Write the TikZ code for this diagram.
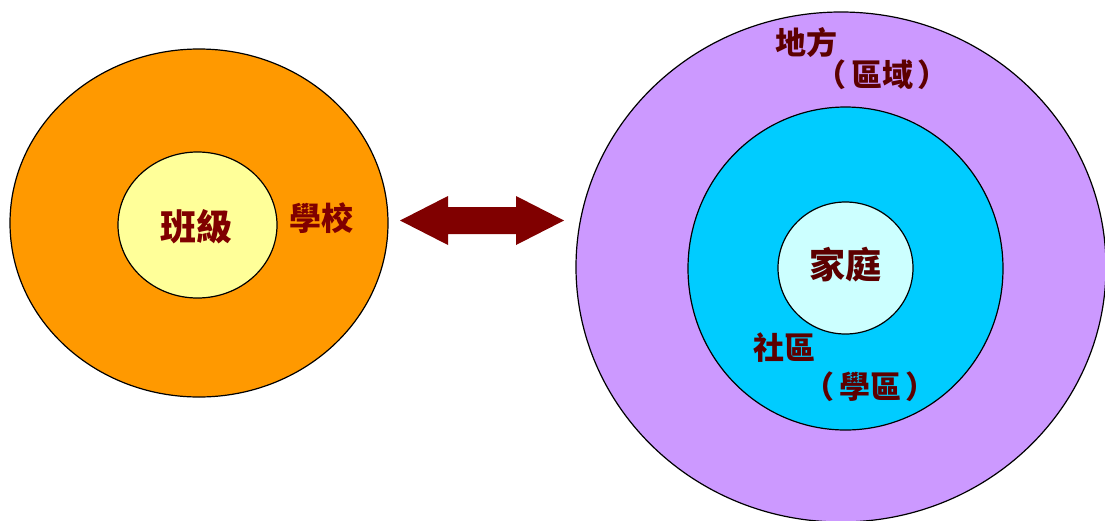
\documentclass[tikz,border=0pt]{standalone}
\usepackage{fontspec}
\setmainfont{Noto Sans CJK TC}
\usetikzlibrary{shapes.geometric}
\definecolor{orangefill}{HTML}{FF9900}
\definecolor{yellowfill}{HTML}{FFFF99}
\definecolor{purplefill}{HTML}{CC99FF}
\definecolor{cyanfill}{HTML}{00CCFF}
\definecolor{lightcyan}{HTML}{CCFFFF}
\definecolor{darkred}{HTML}{800000}
\definecolor{darkbrown}{HTML}{5C0000}
\tikzset{
  ring/.style={ellipse, draw=black, line width=1.2pt, inner sep=0pt},
  bigtext/.style={text=darkred, font=\bfseries\fontsize{36}{36}\selectfont},
  lefttext/.style={text=darkred, font=\bfseries\fontsize{32}{32}\selectfont},
  righttext/.style={text=darkbrown, font=\bfseries\fontsize{31}{31}\selectfont},
  centertext/.style={text=darkbrown, font=\bfseries\fontsize{36}{36}\selectfont},
}
\begin{document}
\begin{tikzpicture}[x=1pt,y=-1pt]
\useasboundingbox (0,0) rectangle (1105,520);
\clip (0,0) rectangle (1105,520);
% left group
\node[ring, fill=orangefill, minimum width=378pt, minimum height=348pt] (school) at (199,223) {};
\node[ring, fill=yellowfill, minimum width=159pt, minimum height=146pt] (class) at (197.5,225) {};
\node[bigtext] (classtxt) at (196,227) {班級};
\node[lefttext] (schooltxt) at (321,218) {學校};
% arrow
\coordinate (la) at (400,220.5);
\coordinate (ra) at (564,220.5);
\fill[darkred] (la) -- (448,196) -- (448,207) -- (516,207) -- (516,196) -- (ra)
  -- (516,245) -- (516,234) -- (448,234) -- (448,245) -- cycle;
% right group
\node[ring, fill=purplefill, minimum width=530pt, minimum height=510pt] (region) at (841,267) {};
\node[ring, fill=cyanfill, minimum width=315pt, minimum height=323pt] (community) at (845.5,268.5) {};
\node[ring, fill=lightcyan, minimum width=135pt, minimum height=132pt] (home) at (845.5,268) {};
\node[centertext] (hometxt) at (845,265) {家庭};
\node[righttext] (regiontxt1) at (806,42.5) {地方};
\node[righttext] (regiontxt2) at (882,75) {（\hspace{5pt}區域\hspace{5pt}）};
\node[righttext] (commtxt1) at (784.5,348) {社區};
\node[righttext] (commtxt2) at (870,387) {（\hspace{5pt}學區\hspace{5pt}）};
\end{tikzpicture}
\end{document}
